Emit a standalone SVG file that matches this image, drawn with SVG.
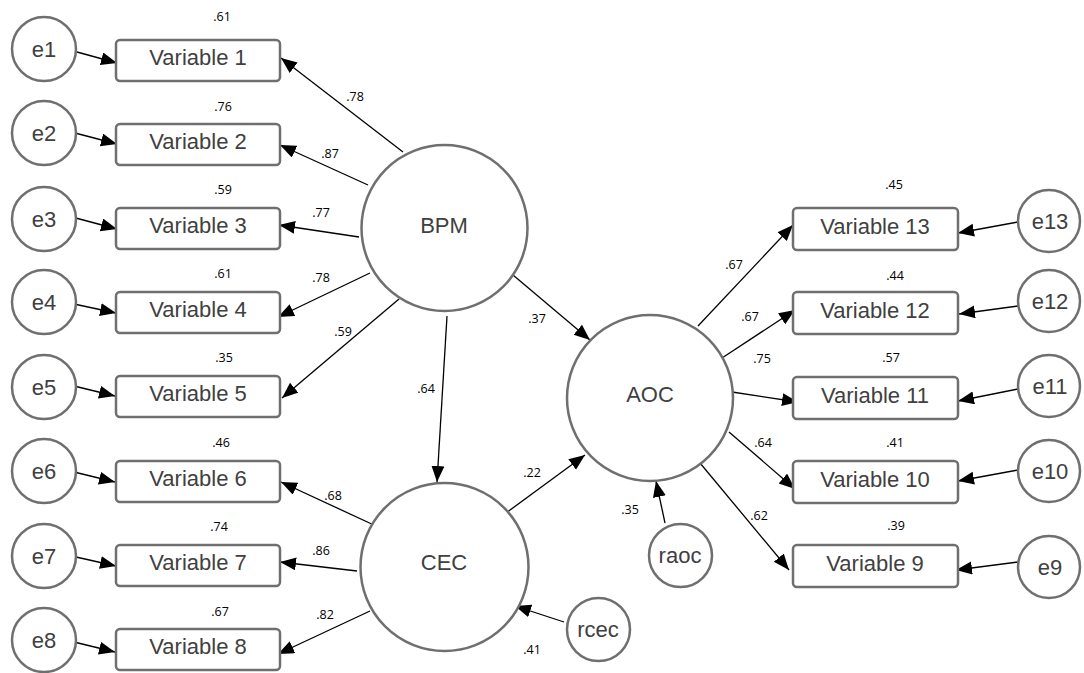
<svg xmlns="http://www.w3.org/2000/svg" width="1084" height="673" viewBox="0 0 1084 673">
<style>
.box{fill:#fff;stroke:#6f6f6f;stroke-width:2.5}
.circ{fill:#fff;stroke:#6f6f6f;stroke-width:2.5}
.nt{font-family:"Liberation Sans",Arial,sans-serif;font-size:22px;fill:#404040;text-anchor:middle}
.lt{font-family:"Open Sans","Liberation Sans",Arial,sans-serif;font-size:12.5px;fill:#000;text-anchor:middle}
.edge{stroke:#000;stroke-width:1.3;fill:none;marker-end:url(#ah)}
</style>
<defs>
<marker id="ah" markerUnits="userSpaceOnUse" markerWidth="17" markerHeight="14" refX="16" refY="6.5" orient="auto">
<path d="M0,0 L16,6.5 L0,13 z" fill="#000"/>
</marker>
</defs>
<rect width="1084" height="673" fill="#fff"/>

<g id="connectors">
<line class="edge" x1="77" y1="52" x2="117" y2="63"/>
<line class="edge" x1="75" y1="133" x2="117" y2="144"/>
<line class="edge" x1="72" y1="217" x2="117" y2="229"/>
<line class="edge" x1="74" y1="304" x2="116" y2="313"/>
<line class="edge" x1="74" y1="386" x2="115" y2="396"/>
<line class="edge" x1="74" y1="472" x2="115" y2="482"/>
<line class="edge" x1="76" y1="557" x2="116" y2="566"/>
<line class="edge" x1="74" y1="642" x2="115" y2="652"/>

<line class="edge" x1="403" y1="152" x2="281" y2="58"/>
<line class="edge" x1="368" y1="185" x2="280" y2="145"/>
<line class="edge" x1="359" y1="237" x2="279" y2="225"/>
<line class="edge" x1="370" y1="273" x2="278" y2="317"/>
<line class="edge" x1="399" y1="299" x2="282" y2="398"/>
<line class="edge" x1="376" y1="526" x2="281" y2="482"/>
<line class="edge" x1="357" y1="571" x2="280" y2="562"/>
<line class="edge" x1="370" y1="611" x2="278" y2="654"/>

<line class="edge" x1="447" y1="316" x2="437" y2="482"/>
<line class="edge" x1="513" y1="275" x2="590" y2="340"/>
<line class="edge" x1="506" y1="513" x2="585" y2="455"/>
<line class="edge" x1="564" y1="622" x2="515" y2="606"/>
<line class="edge" x1="665" y1="523" x2="656" y2="481"/>

<line class="edge" x1="698" y1="326" x2="793" y2="225"/>
<line class="edge" x1="722" y1="358" x2="795" y2="310"/>
<line class="edge" x1="732" y1="392" x2="798" y2="402"/>
<line class="edge" x1="729" y1="432" x2="795" y2="489"/>
<line class="edge" x1="700" y1="463" x2="789" y2="570"/>

<line class="edge" x1="1018" y1="222" x2="958" y2="233"/>
<line class="edge" x1="1018" y1="306" x2="959" y2="314"/>
<line class="edge" x1="1018" y1="389" x2="958" y2="401"/>
<line class="edge" x1="1018" y1="470" x2="958" y2="481"/>
<line class="edge" x1="1018" y1="562" x2="956" y2="570"/>
</g>

<g id="e1"><circle class="circ" cx="44" cy="49" r="32"/><text class="nt" x="44" y="57">e1</text></g>
<g id="e2"><circle class="circ" cx="44" cy="133" r="32"/><text class="nt" x="44" y="141">e2</text></g>
<g id="e3"><circle class="circ" cx="44" cy="219" r="32"/><text class="nt" x="44" y="227">e3</text></g>
<g id="e4"><circle class="circ" cx="44" cy="302" r="32"/><text class="nt" x="44" y="310">e4</text></g>
<g id="e5"><circle class="circ" cx="44" cy="387" r="32"/><text class="nt" x="44" y="395">e5</text></g>
<g id="e6"><circle class="circ" cx="44" cy="471" r="32"/><text class="nt" x="44" y="479">e6</text></g>
<g id="e7"><circle class="circ" cx="44" cy="556" r="32"/><text class="nt" x="44" y="564">e7</text></g>
<g id="e8"><circle class="circ" cx="44" cy="640" r="32"/><text class="nt" x="44" y="648">e8</text></g>

<g id="v1"><rect class="box" x="116" y="40" width="164" height="41" rx="4"/><text class="nt" x="198" y="65">Variable 1</text><text class="lt" x="222" y="21">.61</text></g>
<g id="v2"><rect class="box" x="116" y="124" width="164" height="41" rx="4"/><text class="nt" x="198" y="149">Variable 2</text><text class="lt" x="223" y="111">.76</text></g>
<g id="v3"><rect class="box" x="116" y="208" width="164" height="41" rx="4"/><text class="nt" x="198" y="233">Variable 3</text><text class="lt" x="223" y="194">.59</text></g>
<g id="v4"><rect class="box" x="116" y="292" width="164" height="41" rx="4"/><text class="nt" x="198" y="317">Variable 4</text><text class="lt" x="223" y="278">.61</text></g>
<g id="v5"><rect class="box" x="116" y="376" width="164" height="41" rx="4"/><text class="nt" x="198" y="401">Variable 5</text><text class="lt" x="224" y="362">.35</text></g>
<g id="v6"><rect class="box" x="116" y="461" width="164" height="41" rx="4"/><text class="nt" x="198" y="486">Variable 6</text><text class="lt" x="221" y="447">.46</text></g>
<g id="v7"><rect class="box" x="116" y="545" width="164" height="41" rx="4"/><text class="nt" x="198" y="570">Variable 7</text><text class="lt" x="219" y="531">.74</text></g>
<g id="v8"><rect class="box" x="116" y="629" width="164" height="41" rx="4"/><text class="nt" x="198" y="654">Variable 8</text><text class="lt" x="220" y="616">.67</text></g>

<g id="BPM"><circle class="circ" cx="444.5" cy="228" r="83"/><text class="nt" x="444" y="233">BPM</text></g>
<g id="CEC"><circle class="circ" cx="444.5" cy="567" r="84"/><text class="nt" x="444" y="570">CEC</text></g>
<g id="AOC"><circle class="circ" cx="650" cy="398" r="83"/><text class="nt" x="650" y="402">AOC</text></g>
<g id="raoc"><circle class="circ" cx="680.5" cy="555.5" r="31.5"/><text class="nt" x="680" y="563">raoc</text></g>
<g id="rcec"><circle class="circ" cx="598.5" cy="629.5" r="31.5"/><text class="nt" x="598" y="637">rcec</text></g>

<g id="v13"><rect class="box" x="793" y="208" width="165" height="42" rx="4"/><text class="nt" x="875" y="234">Variable 13</text><text class="lt" x="894" y="189">.45</text></g>
<g id="v12"><rect class="box" x="793" y="292" width="165" height="42" rx="4"/><text class="nt" x="875" y="318">Variable 12</text><text class="lt" x="895" y="280">.44</text></g>
<g id="v11"><rect class="box" x="793" y="377" width="165" height="42" rx="4"/><text class="nt" x="875" y="403">Variable 11</text><text class="lt" x="891" y="362">.57</text></g>
<g id="v10"><rect class="box" x="793" y="461" width="165" height="42" rx="4"/><text class="nt" x="875" y="487">Variable 10</text><text class="lt" x="895" y="447">.41</text></g>
<g id="v9"><rect class="box" x="793" y="545" width="165" height="42" rx="4"/><text class="nt" x="875" y="571">Variable 9</text><text class="lt" x="896" y="530">.39</text></g>

<g id="e13"><circle class="circ" cx="1049" cy="221" r="31"/><text class="nt" x="1050" y="229">e13</text></g>
<g id="e12"><circle class="circ" cx="1049" cy="301" r="31"/><text class="nt" x="1050" y="309">e12</text></g>
<g id="e11"><circle class="circ" cx="1049" cy="386" r="31"/><text class="nt" x="1050" y="394">e11</text></g>
<g id="e10"><circle class="circ" cx="1049" cy="471" r="31"/><text class="nt" x="1050" y="479">e10</text></g>
<g id="e9"><circle class="circ" cx="1049" cy="567" r="31"/><text class="nt" x="1050" y="575">e9</text></g>

<g id="path-labels">
<text class="lt" x="355" y="101">.78</text>
<text class="lt" x="330" y="158">.87</text>
<text class="lt" x="321" y="217">.77</text>
<text class="lt" x="321" y="282">.78</text>
<text class="lt" x="343" y="336">.59</text>
<text class="lt" x="426" y="393">.64</text>
<text class="lt" x="537" y="323">.37</text>
<text class="lt" x="333" y="500">.68</text>
<text class="lt" x="321" y="555">.86</text>
<text class="lt" x="325" y="619">.82</text>
<text class="lt" x="532" y="477">.22</text>
<text class="lt" x="630" y="514">.35</text>
<text class="lt" x="532" y="654">.41</text>
<text class="lt" x="734" y="269">.67</text>
<text class="lt" x="750" y="321">.67</text>
<text class="lt" x="762" y="363">.75</text>
<text class="lt" x="763" y="447">.64</text>
<text class="lt" x="759" y="520">.62</text>
</g>
</svg>
